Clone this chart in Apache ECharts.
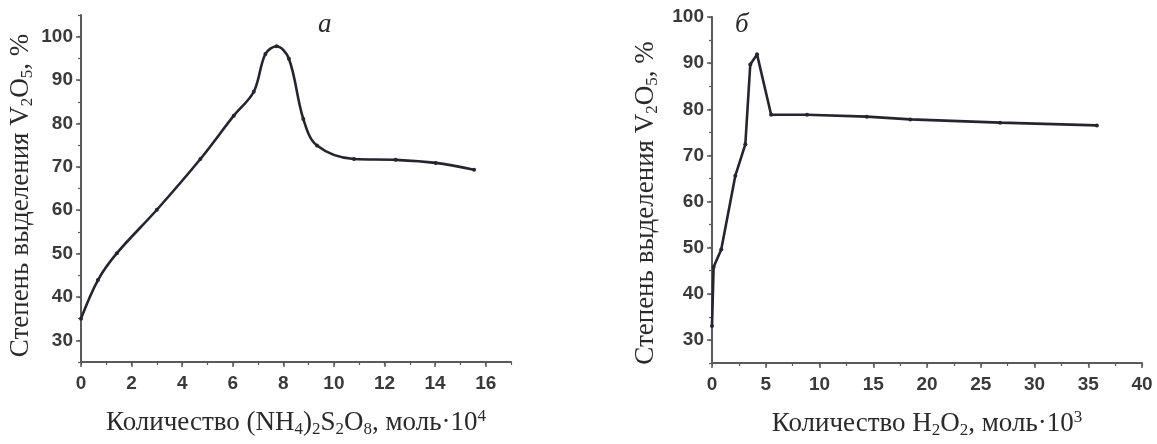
<!DOCTYPE html>
<html>
<head>
<meta charset="utf-8">
<script src="https://cdn.jsdelivr.net/npm/echarts@6/dist/echarts.min.js"></script>
<style>
html,body{margin:0;padding:0;background:#fff;}
#c{width:1157px;height:444px;}
</style>
</head>
<body>
<div id="c"></div>
<script>
// Panel а: (NH4)2S2O8
const leftX = [0, 0.67, 1.42, 3.0, 4.72, 6.04, 6.83, 7.29, 7.73, 8.22, 8.79, 9.33, 10.79, 12.44, 14.02, 15.54];
const leftY = [35, 43.9, 50.1, 60.1, 71.8, 81.8, 87.3, 96.0, 97.8, 94.9, 81.0, 74.9, 71.8, 71.6, 70.9, 69.3];
// Panel б: H2O2
const rightX = [0, 0.15, 0.86, 2.17, 3.1, 3.56, 4.19, 5.5, 8.84, 14.4, 18.45, 26.8, 35.8];
const rightY = [33, 45.8, 49.6, 65.6, 72.4, 89.7, 91.9, 78.8, 78.8, 78.4, 77.8, 77.1, 76.5];

const leftXTicks = [0, 2, 4, 6, 8, 10, 12, 14, 16];
const rightXTicks = [0, 5, 10, 15, 20, 25, 30, 35, 40];
const yTicks = [30, 40, 50, 60, 70, 80, 90, 100];

const titles = ['а', 'б'];
const yName = '{n|Степень выделения V}{sub|2}{n|O}{sub|5}{n|, %}';
const leftXName = '{n|Количество (NH}{sub|4}{n|)}{sub|2}{n|S}{sub|2}{n|O}{sub|8}{n|, моль·10}{sup|4}';
const rightXName = '{n|Количество H}{sub|2}{n|O}{sub|2}{n|, моль·10}{sup|3}';

const serif = '"Liberation Serif", "DejaVu Serif", serif';
const sans = '"Liberation Sans", Arial, sans-serif';
const axisColor = '#5a5a5a';
const lineColor = '#25252f';
const labelColor = '#3a3a3a';

const rich = {
  n: {fontFamily: serif, fontSize: 27, lineHeight: 30, color: '#2a2a2a'},
  sub: {fontFamily: serif, fontSize: 17, lineHeight: 10, verticalAlign: 'bottom', color: '#2a2a2a'},
  sup: {fontFamily: serif, fontSize: 17, lineHeight: 12, verticalAlign: 'top', color: '#2a2a2a'}
};

function mainX(gridIndex, min, max, ticks, name) {
  return {
    type: 'value', gridIndex, min, max, position: 'bottom',
    interval: ticks[1] - ticks[0],
    name, nameLocation: 'middle', nameGap: 46,
    nameTextStyle: {rich},
    axisLine: {show: true, onZero: false, lineStyle: {color: axisColor, width: 2}},
    axisTick: {show: true, customValues: ticks, length: 5, lineStyle: {color: axisColor, width: 1.5}},
    axisLabel: {customValues: ticks, margin: 12, fontFamily: sans, fontWeight: 'bold', fontSize: 19, color: labelColor},
    splitLine: {show: false}
  };
}
function minorX(gridIndex, min, max, interval) {
  return {
    type: 'value', gridIndex, min, max, interval, position: 'bottom',
    axisLine: {show: false, onZero: false},
    axisTick: {show: true, length: 3, lineStyle: {color: axisColor, width: 1.2}},
    axisLabel: {show: false},
    splitLine: {show: false}
  };
}
function mainY(gridIndex, min, max, gap, pad) {
  return {
    type: 'value', gridIndex, min, max, interval: 5, position: 'left',
    name: yName, nameLocation: 'middle', nameGap: gap,
    nameTextStyle: {rich, padding: pad},
    axisLine: {show: true, onZero: false, lineStyle: {color: axisColor, width: 2}},
    axisTick: {show: true, customValues: yTicks, length: 5, lineStyle: {color: axisColor, width: 1.5}},
    axisLabel: {customValues: yTicks, margin: 8, fontFamily: sans, fontWeight: 'bold', fontSize: 19, color: labelColor},
    splitLine: {show: false}
  };
}
function minorY(gridIndex, min, max) {
  return {
    type: 'value', gridIndex, min, max, interval: 5, position: 'left',
    axisLine: {show: false, onZero: false},
    axisTick: {show: true, length: 3, lineStyle: {color: axisColor, width: 1.2}},
    axisLabel: {show: false},
    splitLine: {show: false}
  };
}

const chart = echarts.init(document.getElementById('c'), null, {renderer: 'canvas'});
chart.setOption({
  backgroundColor: '#ffffff',
  animation: false,
  grid: [
    {left: 81, top: 15, width: 430, height: 347},
    {left: 712, top: 17, width: 430, height: 346}
  ],
  xAxis: [
    mainX(0, 0, 17, leftXTicks, leftXName),
    minorX(0, 0, 17, 1),
    mainX(1, 0, 40, rightXTicks, rightXName),
    minorX(1, 0, 40, 2.5)
  ],
  yAxis: [
    mainY(0, 25, 105, 45, [0, 14, 0, 0]),
    minorY(0, 25, 105),
    mainY(1, 25, 100, 51, [0, 26, 0, 0]),
    minorY(1, 25, 100)
  ],
  graphic: [
    {type: 'text', left: 318, top: 11, style: {text: titles[0], font: 'italic 27px ' + serif, fill: '#2a2a2a'}},
    {type: 'text', left: 735, top: 11, style: {text: titles[1], font: 'italic 27px ' + serif, fill: '#2a2a2a'}}
  ],
  series: [
    {
      type: 'line', xAxisIndex: 0, yAxisIndex: 0,
      data: leftX.map((x, i) => [x, leftY[i]]),
      smooth: 0.35,
      symbol: 'circle', symbolSize: 4,
      lineStyle: {color: lineColor, width: 2.6},
      itemStyle: {color: lineColor}
    },
    {
      type: 'line', xAxisIndex: 2, yAxisIndex: 2,
      data: rightX.map((x, i) => [x, rightY[i]]),
      smooth: false,
      symbol: 'circle', symbolSize: 4,
      lineStyle: {color: lineColor, width: 2.6},
      itemStyle: {color: lineColor}
    }
  ]
});
</script>
</body>
</html>
